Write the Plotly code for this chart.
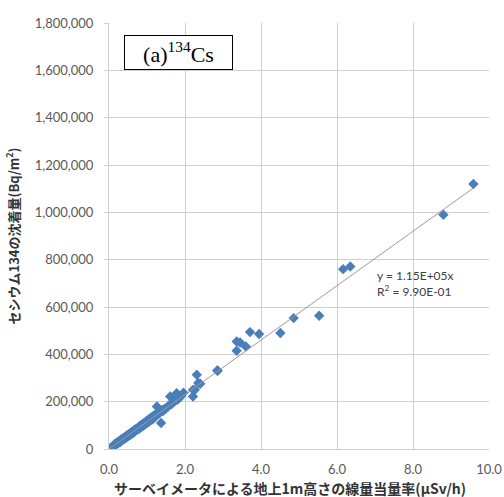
import plotly.graph_objects as go

# Dose rate (uSv/h) and Cs-134 deposition (Bq/m2)
dose_rate = [
    0.05, 0.08, 0.10, 0.12, 0.15, 0.15, 0.18, 0.20, 0.20, 0.22, 0.25, 0.25, 0.28, 0.30, 0.30,
    0.32, 0.35, 0.35, 0.38, 0.40, 0.40, 0.42, 0.45, 0.45, 0.48, 0.50, 0.50, 0.52, 0.55, 0.55,
    0.58, 0.60, 0.60, 0.62, 0.65, 0.65, 0.68, 0.70, 0.70, 0.72, 0.75, 0.75, 0.78, 0.80, 0.80,
    0.82, 0.85, 0.85, 0.88, 0.90, 0.90, 0.92, 0.95, 0.95, 0.98, 1.00, 1.00, 1.02, 1.05, 1.05,
    1.08, 1.10, 1.10, 1.12, 1.15, 1.15, 1.18, 1.20, 1.22, 1.25, 1.26, 1.30, 1.32, 1.35, 1.37,
    1.40, 1.42, 1.45, 1.50, 1.55, 1.58, 1.61, 1.65, 1.70, 1.74, 1.78, 1.80, 1.85, 1.90, 1.96,
    2.21, 2.21, 2.26, 2.31, 2.35, 2.40, 2.86, 2.85, 3.36, 3.36, 3.45, 3.60, 3.71, 3.95, 4.51,
    4.86, 5.53, 6.16, 6.35, 8.80, 9.59,
]
cs134_deposition = [
    5000, 9000, 10000, 15000, 16000, 20000, 22000, 20000, 26000, 28000, 25000, 32000, 30000, 36000, 30000,
    40000, 38000, 44000, 42000, 48000, 42000, 50000, 55000, 48000, 52000, 60000, 55000, 62000, 58000, 66000,
    68000, 64000, 72000, 70000, 78000, 70000, 76000, 84000, 78000, 80000, 88000, 82000, 92000, 86000, 95000,
    98000, 93000, 102000, 100000, 108000, 98000, 106000, 112000, 104000, 115000, 110000, 120000, 118000, 125000, 115000,
    128000, 122000, 132000, 130000, 138000, 126000, 140000, 135000, 145000, 150000, 180000, 148000, 158000, 155000, 110000,
    165000, 160000, 168000, 172000, 178000, 185000, 222000, 190000, 200000, 205000, 236000, 208000, 215000, 225000, 238000,
    250000, 222000, 250000, 313800, 278700, 275800, 330600, 332000, 454000, 415000, 450000, 433000, 494000, 485600, 489900,
    553000, 563000, 760000, 771000, 989500, 1120000,
]

x_ticks = [0, 2, 4, 6, 8, 10]
x_tick_text = ["0.0", "2.0", "4.0", "6.0", "8.0", "10.0"]
y_ticks = [0, 200000, 400000, 600000, 800000, 1000000, 1200000, 1400000, 1600000, 1800000]
y_tick_text = ["0", "200,000", "400,000", "600,000", "800,000", "1,000,000",
               "1,200,000", "1,400,000", "1,600,000", "1,800,000"]

slope = 1.15e5
trend_x = [0, 9.6]
trend_y = [slope * v for v in trend_x]

fig = go.Figure()
fig.add_trace(go.Scatter(
    x=dose_rate, y=cs134_deposition, mode="markers",
    marker=dict(symbol="diamond", size=8, color="#4a7ebb", line=dict(width=0)),
    showlegend=False,
))
fig.add_trace(go.Scatter(
    x=trend_x, y=trend_y, mode="lines",
    line=dict(color="#9a9a9a", width=1), showlegend=False,
))

grid = "#cfcfcf"
tick_font = dict(family="Lato, sans-serif", size=13, color="#595959")
cjk = "Noto Sans CJK JP, sans-serif"

fig.update_layout(
    width=504, height=497,
    margin=dict(l=109, r=15, t=23, b=48),
    paper_bgcolor="white", plot_bgcolor="white",
    xaxis=dict(
        range=[0, 10], tickvals=x_ticks, ticktext=x_tick_text,
        showgrid=True, gridcolor=grid, gridwidth=1,
        showline=True, linecolor=grid, linewidth=1, zeroline=False,
        ticks="", tickfont=tick_font, ticklabelstandoff=8, automargin=False,
    ),
    yaxis=dict(
        range=[0, 1800000], tickvals=y_ticks, ticktext=y_tick_text,
        showgrid=True, gridcolor=grid, gridwidth=1,
        showline=True, linecolor=grid, linewidth=1, zeroline=False,
        ticks="outside", ticklen=4, tickcolor=grid, tickfont=tick_font,
        ticklabelstandoff=8, automargin=False,
        title=dict(text="<b>セシウム134の沈着量(Bq/m<sup>2</sup>)</b>",
                   font=dict(family=cjk, size=13, color="#333333"), standoff=12),
    ),
    annotations=[
        dict(xref="paper", yref="paper", x=0.477, y=-0.0915,
             xanchor="center", yanchor="middle", showarrow=False,
             text="<b>サーベイメータによる地上1m高さの線量当量率(μSv/h)</b>",
             font=dict(family=cjk, size=14, color="#333333")),
        dict(xref="paper", yref="paper", x=0.183, y=0.931,
             xanchor="center", yanchor="middle",
             text="(a)<sup>134</sup>Cs", showarrow=False,
             font=dict(family="Liberation Serif, serif", size=22, color="black"),
             bordercolor="black", borderwidth=1, bgcolor="white",
             width=105, height=31, align="center"),
        dict(xref="x", yref="y", x=6.99, y=698000, xanchor="left", yanchor="middle",
             text="y = 1.15E+05x<br>R<sup>2</sup> = 9.90E-01", showarrow=False, align="left",
             font=dict(family="Lato, sans-serif", size=12, color="#404040")),
    ],
)

fig.write_html("out.html")
